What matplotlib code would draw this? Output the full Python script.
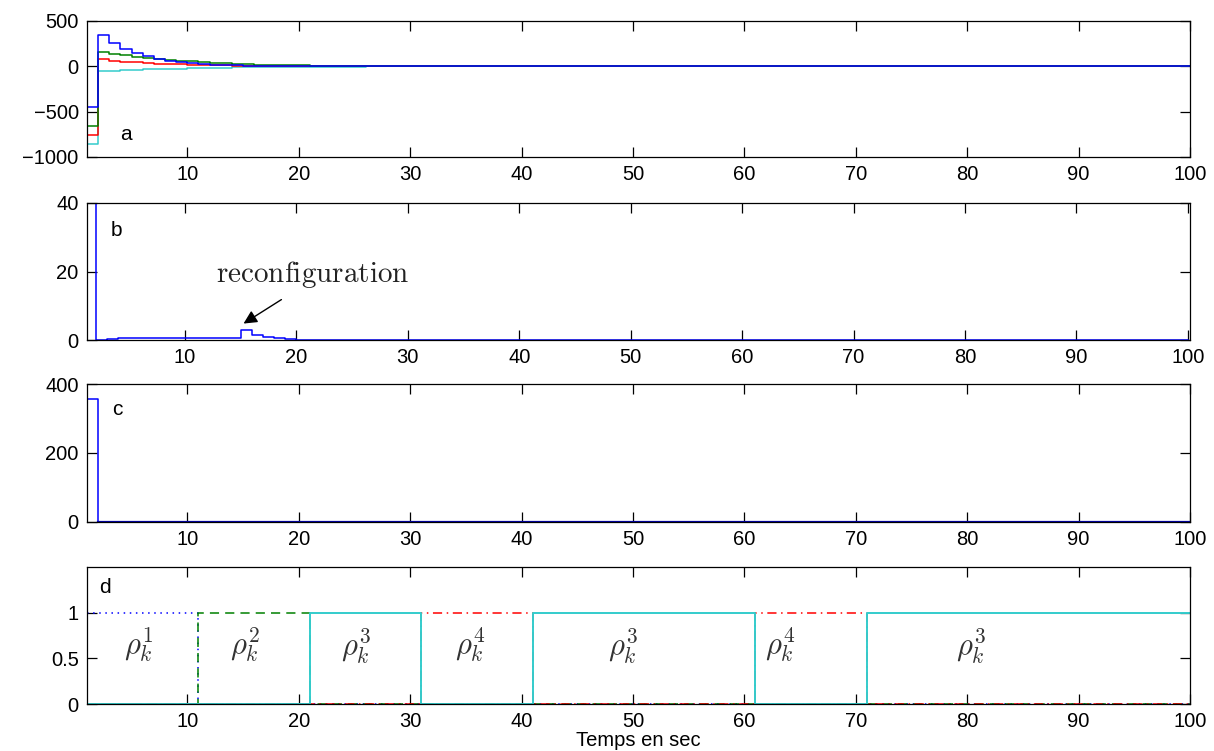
import numpy as np
import matplotlib
matplotlib.use("Agg")
import matplotlib.pyplot as plt

plt.rcParams['font.family'] = ['Liberation Sans', 'DejaVu Sans']
plt.rcParams['mathtext.fontset'] = 'cm'

# time samples (sec)
t = list(range(1, 101))

# panel a: four signals (first ~30 samples read, rest ~0)
a_blue = [-450, 345, 255, 190, 145, 110, 82, 62, 47, 36, 27, 20, 15, 11, 8, 6, 5, 4, 3, 2, 1.5, 1, 0.7, 0.5, 0.3]
a_green = [-660, 158, 138, 122, 108, 95, 83, 72, 62, 54, 46, 39, 33, 28, 24, 20, 17, 14, 12, 10, 8, 6, 5, 4, 3, 2, 1.5, 1, 0.5]
a_red = [-760, 82, 62, 52, 44, 37, 31, 26, 22, 18, 15, 12, 10, 8, 6.5, 5, 4, 3, 2.5, 2, 1.5, 1, 0.5]
a_cyan = [-860, -55, -48, -43, -38, -34, -30, -27, -24, -21, -18, -16, -14, -12, -10, -9, -8, -7, -6, -5, -4, -3.5, -3, -2.5, -2, -1.5, -1, -0.5]

# panel b
b_blue = [120, 0, 0.3, 0.5, 0.5, 0.55, 0.55, 0.6, 0.6, 0.6, 0.6, 0.55, 0.55, 0.6, 2.9, 1.4, 0.9, 0.5, 0.2, 0.1,
          0.08, 0.06, 0.05, 0.05, 0.05, 0.04, 0.04, 0.03, 0.03, 0.03]

# panel c
c_blue = [355]

# panel d: active model indicators, switching times
switch_t = [1, 11, 21, 31, 41, 61, 71, 101]
switch_model = [1, 2, 3, 4, 3, 4, 3]
model_labels = [r'$\rho_k^1$', r'$\rho_k^2$', r'$\rho_k^3$', r'$\rho_k^4$', r'$\rho_k^3$', r'$\rho_k^4$', r'$\rho_k^3$']
label_x = [5.6, 15.2, 25.1, 35.4, 49.1, 63.2, 80.3]

def pad(v, n=100):
    return list(v) + [0.0] * (n - len(v))

def indicator(m):
    out = []
    for k in t:
        val = 0
        for i in range(len(switch_model)):
            if switch_t[i] <= k < switch_t[i + 1] and switch_model[i] == m:
                val = 1
        out.append(val)
    return out

fig = plt.figure(figsize=(12.14, 7.51), dpi=100)
L, R = 87 / 1214, 1190 / 1214
def add(top, bot):
    return fig.add_axes([L, 1 - bot / 751, R - L, (bot - top) / 751])

axa = add(21, 157)
axb = add(203, 340)
axc = add(384, 521.5)
axd = add(567, 704)

BLUE, GREEN, RED, CYAN = '#0000FF', '#008000', '#FF0000', '#33CCCC'

for ax in (axa, axb, axc, axd):
    ax.tick_params(direction='in', top=True, right=True, length=7, labelsize=14.5, width=0.9, pad=6)
    ax.set_xticks(range(10, 101, 10))
    ax.set_xlim(1, 100)
    for s in ax.spines.values():
        s.set_linewidth(0.9)

lw = 1.1
axa.step(t, pad(a_cyan), where='post', color=CYAN, lw=lw)
axa.step(t, pad(a_red), where='post', color=RED, lw=lw)
axa.step(t, pad(a_green), where='post', color=GREEN, lw=lw)
axa.step(t, pad(a_blue), where='post', color=BLUE, lw=lw)
axa.set_ylim(-1000, 500)
axa.set_yticks([-1000, -500, 0, 500])
axa.set_yticklabels(['\u22121000', '\u2212500', '0', '500'])
axa.text(4.5, -750, 'a', fontsize=15, ha='center', va='center')

axb.step(t, pad(b_blue), where='post', color=BLUE, lw=lw)
axb.set_xlim(1.2, 100.2)
axb.set_ylim(0, 40)
axb.set_yticks([0, 20, 40])
axb.text(3.8, 32, 'b', fontsize=15, ha='center', va='center')
axb.text(21.5, 19.0, r'$\mathrm{reconfiguration}$', fontsize=21, ha='center', va='center', color='#222222')
axb.annotate('', xy=(15.25, 4.8), xytext=(18.65, 11.8),
             arrowprops=dict(arrowstyle='-|>', color='black', lw=1.0, mutation_scale=20,
                             shrinkA=0, shrinkB=0))

axc.step(t, pad(c_blue), where='post', color=BLUE, lw=lw)
axc.plot([2, 100], [0, 0], color='#0000AA', lw=1.6)
axc.set_ylim(0, 400)
axc.set_yticks([0, 200, 400])
axc.text(3.7, 325, 'c', fontsize=15, ha='center', va='center')

axd.step(t, indicator(1), where='post', color=BLUE, lw=lw, ls=(0, (1, 3)))
axd.step(t, indicator(2), where='post', color=GREEN, lw=lw, ls=(0, (6, 4)))
axd.step(t, indicator(4), where='post', color=RED, lw=lw, ls=(0, (6, 3, 1, 3)))
axd.step(t, indicator(3), where='post', color=CYAN, lw=1.4)
axd.set_ylim(0, 1.5)
axd.set_yticks([0, 0.5, 1])
axd.set_yticklabels(['0', '0.5', '1'])
axd.text(2.6, 1.28, 'd', fontsize=15, ha='center', va='center')
for lx, lab in zip(label_x, model_labels):
    axd.text(lx, 0.64, lab, fontsize=22, ha='center', va='center', color='#333333')

fig.text((L + R) / 2, 0.001, 'Temps en sec', fontsize=14.5, ha='center', va='bottom')

fig.savefig('out.png', dpi=100)
